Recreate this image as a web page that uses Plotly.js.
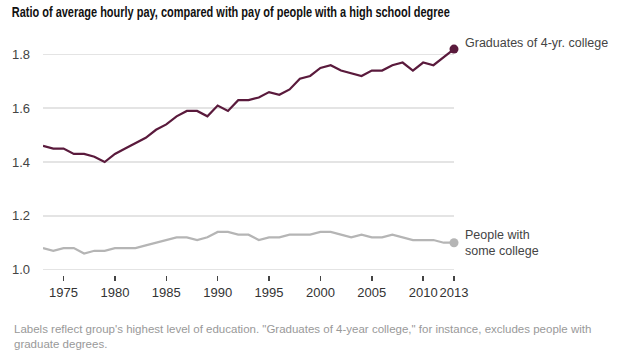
<!DOCTYPE html>
<html>
<head>
<meta charset="utf-8">
<script src="https://cdn.plot.ly/plotly-3.0.1.min.js"></script>
<style>
html,body{margin:0;padding:0;background:#fff;}
#chart{width:620px;height:355px;}
</style>
</head>
<body>
<div id="chart"></div>
<script>
const years = [1973,1974,1975,1976,1977,1978,1979,1980,1981,1982,1983,1984,1985,1986,1987,1988,1989,1990,1991,1992,1993,1994,1995,1996,1997,1998,1999,2000,2001,2002,2003,2004,2005,2006,2007,2008,2009,2010,2011,2012,2013];
const collegeGrads = [1.46,1.45,1.45,1.43,1.43,1.42,1.40,1.43,1.45,1.47,1.49,1.52,1.54,1.57,1.59,1.59,1.57,1.61,1.59,1.63,1.63,1.64,1.66,1.65,1.67,1.71,1.72,1.75,1.76,1.74,1.73,1.72,1.74,1.74,1.76,1.77,1.74,1.77,1.76,1.79,1.82];
const someCollege = [1.08,1.07,1.08,1.08,1.06,1.07,1.07,1.08,1.08,1.08,1.09,1.10,1.11,1.12,1.12,1.11,1.12,1.14,1.14,1.13,1.13,1.11,1.12,1.12,1.13,1.13,1.13,1.14,1.14,1.13,1.12,1.13,1.12,1.12,1.13,1.12,1.11,1.11,1.11,1.10,1.10];
const xTicks = [1975,1980,1985,1990,1995,2000,2005,2010,2013];
const yTicks = [1.0,1.2,1.4,1.6,1.8];
const yTickText = ["1.0","1.2","1.4","1.6","1.8"];
const titleText = "Ratio of average hourly pay, compared with pay of people with a high school degree";
const noteText = "Labels reflect group's highest level of education. \"Graduates of 4-year college,\" for instance, excludes people with<br>graduate degrees.";
const gradLabel = "Graduates of 4-yr. college";
const someLabel = "People with<br>some college";

const dark = "#5a1a3c";
const grey = "#b5b5b5";
const last = years.length - 1;

const traces = [
  {x: years, y: someCollege, type: "scatter", mode: "lines", line: {color: grey, width: 2.2}, hoverinfo: "skip"},
  {x: years, y: collegeGrads, type: "scatter", mode: "lines", line: {color: dark, width: 2.2}, hoverinfo: "skip"},
  {x: [years[last]], y: [someCollege[last]], type: "scatter", mode: "markers", marker: {color: grey, size: 9}, cliponaxis: false, hoverinfo: "skip"},
  {x: [years[last]], y: [collegeGrads[last]], type: "scatter", mode: "markers", marker: {color: dark, size: 9}, cliponaxis: false, hoverinfo: "skip"}
];

const font = "'Liberation Sans', Arial, sans-serif";

const layout = {
  width: 620, height: 355,
  margin: {l: 43, r: 166, t: 40.5, b: 79.6},
  paper_bgcolor: "#fff", plot_bgcolor: "#fff",
  showlegend: false,
  font: {family: font, size: 13, color: "#333"},
  title: {text: "<b>" + titleText + "</b>", x: 0.019, xanchor: "left", y: 0.966, yanchor: "middle",
          font: {family: font, size: 15, color: "#111"}},
  xaxis: {range: [1973, 2013], tickvals: xTicks, ticktext: xTicks.map(String), tickangle: 0, showgrid: false, zeroline: false,
          showline: false, ticks: "outside", ticklen: 5, tickwidth: 1.5, tickcolor: "#444",
          tickfont: {family: font, size: 13, color: "#333"}, fixedrange: true},
  yaxis: {range: [0.98, 1.85], tickvals: yTicks, ticktext: yTickText, showgrid: true, gridcolor: "#e4e4e4", gridwidth: 1.5,
          zeroline: false, showline: false, ticks: "", ticklabelstandoff: 12,
          tickfont: {family: font, size: 13, color: "#444"}, fixedrange: true},
  annotations: [
    {x: years[last], y: collegeGrads[last], xref: "x", yref: "y", text: gradLabel, showarrow: false,
     xanchor: "left", yanchor: "middle", xshift: 9, yshift: 6, font: {family: font, size: 12.5, color: "#444"}},
    {x: years[last], y: someCollege[last], xref: "x", yref: "y", text: someLabel, showarrow: false, align: "left",
     xanchor: "left", yanchor: "middle", xshift: 9, yshift: 0, font: {family: font, size: 12.5, color: "#444"}},
    {x: (12 - 43) / (620 - 43 - 166), y: (355 - 79.6 - 337) / (355 - 40.5 - 79.6), xref: "paper", yref: "paper",
     text: noteText, showarrow: false, align: "left",
     xanchor: "left", yanchor: "middle", font: {family: font, size: 11.5, color: "#999"}}
  ]
};

Plotly.newPlot("chart", traces, layout, {displayModeBar: false, staticPlot: true}).then(function (gd) {
  // condense the title to the reference's narrow headline width
  const t = gd.querySelector(".gtitle");
  if (t) {
    t.setAttribute("textLength", "438");
    t.setAttribute("lengthAdjust", "spacingAndGlyphs");
  }
});
</script>
</body>
</html>
